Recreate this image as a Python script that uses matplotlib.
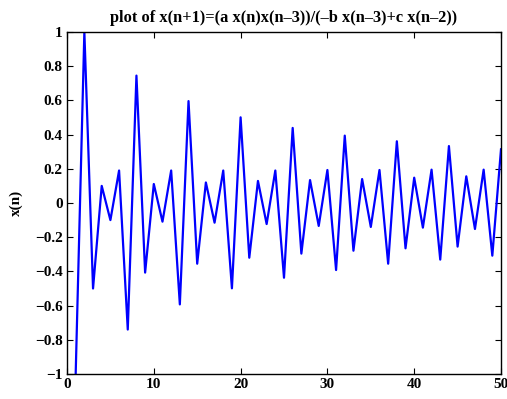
import matplotlib
matplotlib.use("Agg")
import matplotlib.pyplot as plt

n = list(range(1, 51))
x_vals = [-1.0, 1.0, -0.50, 0.10, -0.10, 0.19,
          -0.74, 0.745, -0.407, 0.111, -0.109, 0.19,
          -0.593, 0.596, -0.355, 0.12, -0.115, 0.19,
          -0.499, 0.501, -0.32, 0.129, -0.123, 0.19,
          -0.437, 0.439, -0.296, 0.134, -0.134, 0.193,
          -0.392, 0.394, -0.279, 0.14, -0.14, 0.193,
          -0.355, 0.361, -0.265, 0.148, -0.144, 0.195,
          -0.331, 0.333, -0.255, 0.156, -0.152, 0.195,
          -0.308, 0.314]

xticks = [0, 10, 20, 30, 40, 50]
yticks = [-1, -0.8, -0.6, -0.4, -0.2, 0, 0.2, 0.4, 0.6, 0.8, 1]
ytick_labels = ["\u22121", "\u22120.8", "\u22120.6", "\u22120.4", "\u22120.2", "0",
                "0.2", "0.4", "0.6", "0.8", "1"]
title = "plot of x(n+1)=(a x(n)x(n\u20133))/(\u2013b x(n\u20133)+c x(n\u20132))"
ylabel = "x(n)"

plt.rcParams['font.family'] = ['Liberation Serif', 'DejaVu Serif']
plt.rcParams['font.weight'] = 'bold'

fig = plt.figure(figsize=(5.07, 3.99), dpi=100)
ax = fig.add_axes([67/507, 25/399, (501-67)/507, (374-32)/399])
ax.plot(n, x_vals, color=(0, 0, 1), linewidth=1.6, clip_on=True)
ax.set_xlim(0, 50)
ax.set_ylim(-1, 1)
ax.set_xticks(xticks)
ax.set_xticklabels([str(t) for t in xticks], fontsize=11, fontweight='bold')
ax.set_yticks(yticks)
ax.set_yticklabels(ytick_labels, fontsize=11, fontweight='bold')
ax.tick_params(direction='in', top=True, right=True, length=4, width=0.8, pad=3)
for s in ax.spines.values():
    s.set_linewidth(1.0)
ax.set_title(title, fontsize=11.8, fontweight='bold', pad=7)
ax.set_ylabel(ylabel, fontsize=11, fontweight='bold', labelpad=9)
fig.savefig("out.png", dpi=100)
